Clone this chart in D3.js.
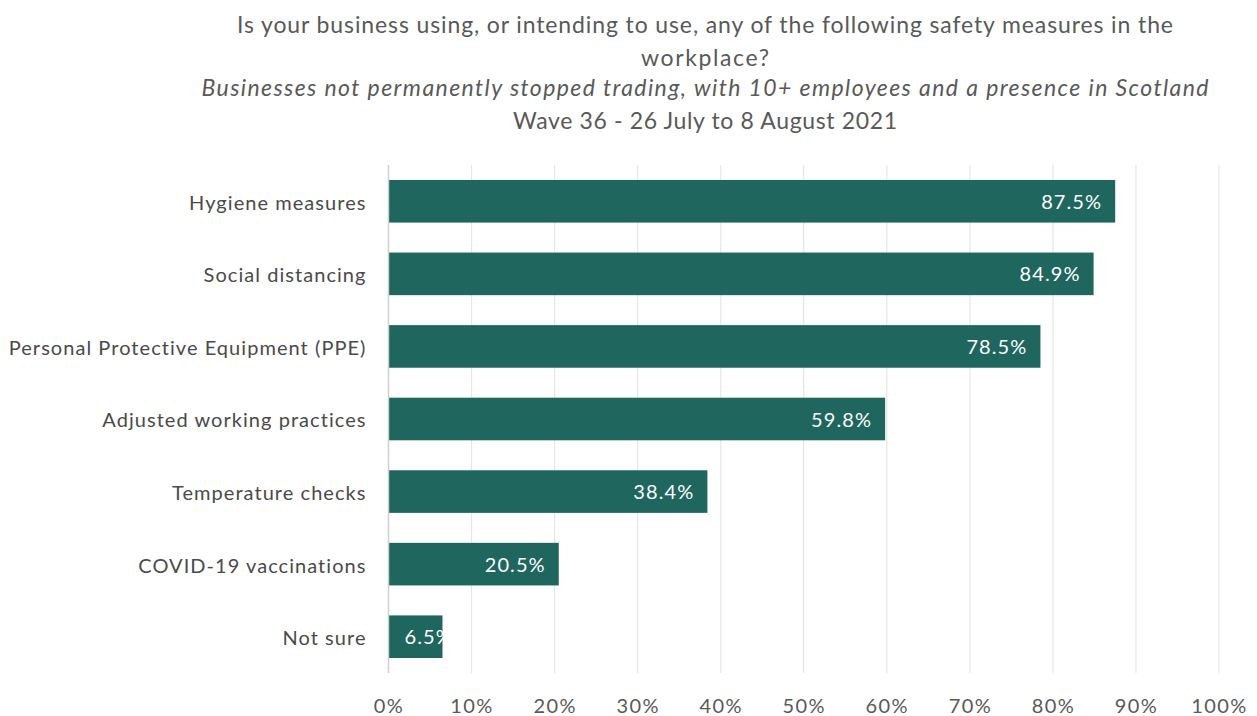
<!DOCTYPE html>
<html>
<head>
<meta charset="utf-8">
<script src="https://cdn.jsdelivr.net/npm/d3@7"></script>
<style>
  html, body { margin: 0; padding: 0; background: #fff; }
  svg text { font-family: Lato, "Open Sans", sans-serif; }
</style>
</head>
<body>
<svg id="chart" width="1257" height="716"></svg>
<script>
// Safety measures in use or planned (share of businesses, %)
const categories = [
  "Hygiene measures",
  "Social distancing",
  "Personal Protective Equipment (PPE)",
  "Adjusted working practices",
  "Temperature checks",
  "COVID-19 vaccinations",
  "Not sure"
];
const values = [87.5, 84.9, 78.5, 59.8, 38.4, 20.5, 6.5];
const tickValues = [0, 10, 20, 30, 40, 50, 60, 70, 80, 90, 100];
const titleLines = [
  "Is your business using, or intending to use, any of the following safety measures in the",
  "workplace?"
];
const subtitle = "Businesses not permanently stopped trading, with 10+ employees and a presence in Scotland";
const waveLine = "Wave 36 - 26 July to 8 August 2021";

const svg = d3.select("#chart");
const plotLeft = 388.5, plotRight = 1219, plotTop = 165, plotBottom = 673;

const x = d3.scaleLinear().domain([0, 100]).range([plotLeft, plotRight]);
const y = d3.scaleBand().domain(categories).range([plotTop, plotBottom]).paddingInner(0.413).paddingOuter(0.2065);

// Titles (stretched to the heading block width)
const cx = 705;
const heading = [
  { text: titleLines[0], y: 33, len: 936, italic: false },
  { text: titleLines[1], y: 66, len: 128, italic: false },
  { text: subtitle, y: 96, len: 1007, italic: true },
  { text: waveLine, y: 129, len: 384, italic: false }
];
svg.append("g").selectAll("text").data(heading).join("text")
  .attr("x", cx).attr("y", d => d.y).attr("text-anchor", "middle")
  .attr("font-size", 23).attr("fill", "#595959")
  .attr("font-style", d => d.italic ? "italic" : "normal")
  .attr("textLength", d => d.len).attr("lengthAdjust", "spacing")
  .text(d => d.text);

// Vertical gridlines
svg.append("g").selectAll("line").data(tickValues.filter(d => d > 0)).join("line")
  .attr("x1", d => x(d)).attr("x2", d => x(d))
  .attr("y1", plotTop).attr("y2", plotBottom)
  .attr("stroke", "#e6e6e6").attr("stroke-width", 1.2);

// Bars
svg.append("g").selectAll("rect").data(values).join("rect")
  .attr("x", x(0))
  .attr("y", (d, i) => y(categories[i]))
  .attr("width", d => x(d) - x(0))
  .attr("height", y.bandwidth())
  .attr("fill", "#1e665e");

// Zero axis line
svg.append("line").attr("x1", x(0)).attr("x2", x(0)).attr("y1", plotTop).attr("y2", plotBottom)
  .attr("stroke", "#d0d0d0").attr("stroke-width", 1.5);

// Value labels at bar ends; short bars keep the label clear of the axis
const valueLabels = svg.append("g").selectAll("text").data(values).join("text")
  .attr("y", (d, i) => y(categories[i]) + y.bandwidth() / 2)
  .attr("dy", "0.38em")
  .attr("text-anchor", "start")
  .attr("font-size", 20)
  .attr("letter-spacing", 1.1)
  .attr("fill", "#ffffff")
  .text(d => d.toFixed(1) + "%");
valueLabels.each(function(d) {
  const w = this.getComputedTextLength();
  d3.select(this).attr("x", Math.max(x(d) - 13 - w, x(0) + 16));
});

// Category labels
const yAxis = d3.axisLeft(y).tickSize(0).tickPadding(22);
const gy = svg.append("g").attr("transform", `translate(${x(0)},2)`).call(yAxis);
gy.select(".domain").remove();
gy.selectAll("text").attr("font-size", 20).attr("letter-spacing", 1.05)
  .attr("fill", "#4a4a4a").attr("font-family", "Lato, sans-serif");

// X axis tick labels
const xAxis = d3.axisBottom(x).tickValues(tickValues).tickFormat(d => d + "%").tickSize(0).tickPadding(26);
const gx = svg.append("g").attr("transform", `translate(0,${plotBottom})`).call(xAxis);
gx.select(".domain").remove();
gx.selectAll("text").attr("font-size", 20).attr("letter-spacing", 1.4)
  .attr("fill", "#595959").attr("font-family", "Lato, sans-serif");
</script>
</body>
</html>
